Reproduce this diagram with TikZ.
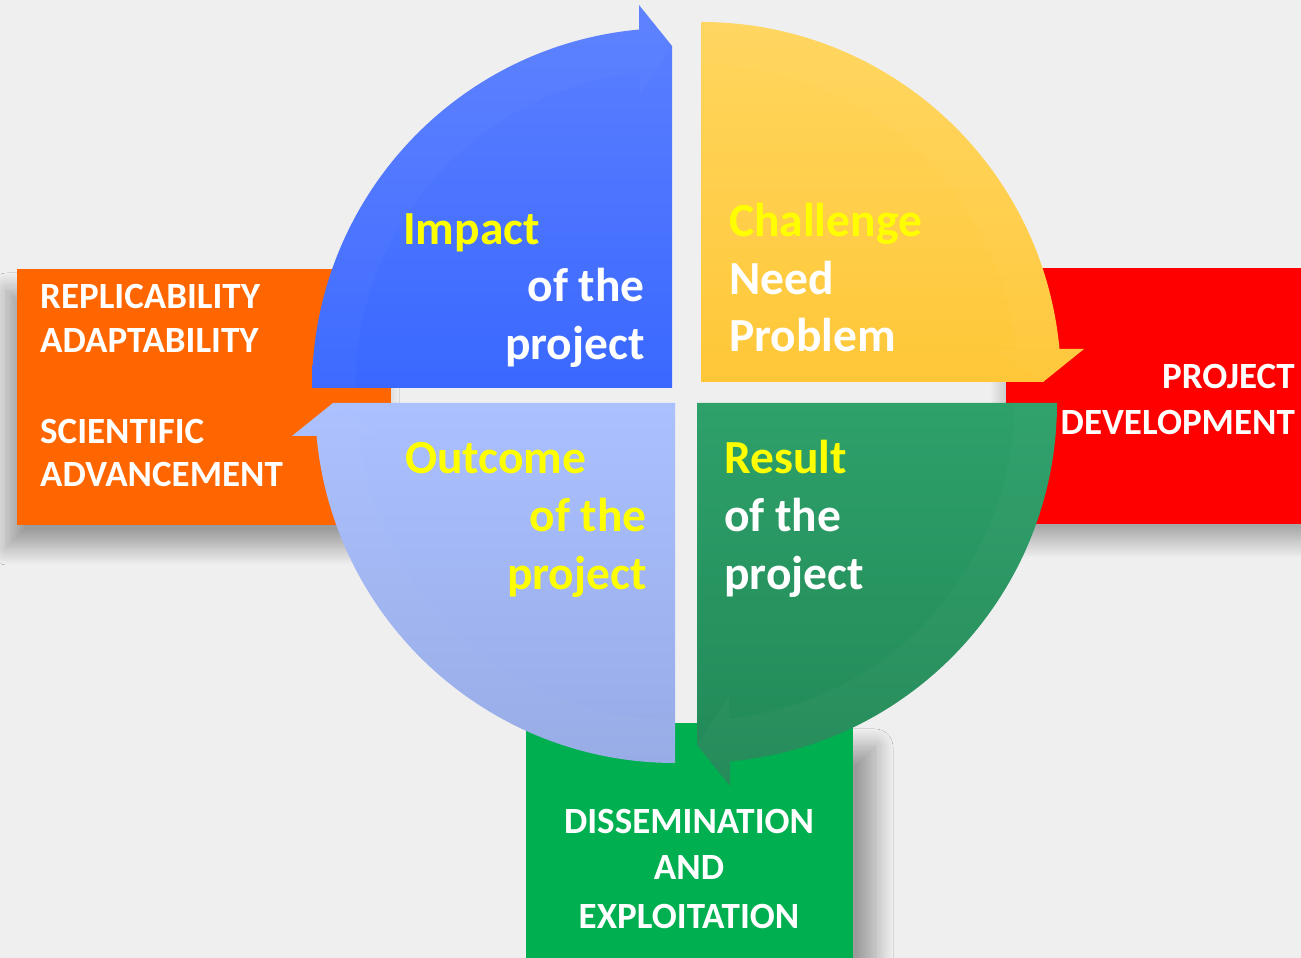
\documentclass[tikz,border=0pt]{standalone}
\usepackage{fontspec}
\setmainfont{Carlito}
\usetikzlibrary{shadows.blur}
\definecolor{bg}{RGB}{239,239,239}
\definecolor{boxorange}{RGB}{255,102,0}
\definecolor{boxred}{RGB}{255,0,0}
\definecolor{boxgreen}{RGB}{0,176,80}
\definecolor{txtyellow}{RGB}{255,255,0}
\definecolor{blueT}{RGB}{92,128,255}
\definecolor{blueB}{RGB}{58,104,255}
\definecolor{yelT}{RGB}{255,214,94}
\definecolor{yelB}{RGB}{255,199,56}
\definecolor{greT}{RGB}{46,160,106}
\definecolor{greB}{RGB}{33,137,87}
\definecolor{lbT}{RGB}{171,192,255}
\definecolor{lbB}{RGB}{150,171,230}
\newcommand\quadpath{(-360,0) arc[start angle=180,end angle=95.26,radius=360] -- (-33,383) -- (0,342) -- (0,0) -- cycle}
\newcommand\facetpath{(-360,0) arc[start angle=180,end angle=95.26,radius=360] -- (-33,383) -- (0,342) -- (-32,293) -- (-32,315.4) arc[start angle=95.8,end angle=180,radius=317] -- cycle}
\tikzset{
  quadtext/.style={inner sep=0pt,font=\bfseries\fontsize{47.5}{57}\selectfont},
  boxtext/.style={inner sep=0pt,text=white,font=\bfseries\fontsize{37}{44}\selectfont},
  facet/.style={fill=white,fill opacity=0.025},
  shadowA/.style={blur shadow={shadow xshift=-10pt,shadow yshift=-22pt,shadow blur radius=18pt,shadow blur steps=24,shadow opacity=35}},
  shadowB/.style={blur shadow={shadow xshift=0pt,shadow yshift=-18pt,shadow blur radius=16pt,shadow blur steps=24,shadow opacity=30}},
  shadowC/.style={blur shadow={shadow xshift=22pt,shadow yshift=-24pt,shadow blur radius=18pt,shadow blur steps=24,shadow opacity=35}}
}
\begin{document}
\begin{tikzpicture}[x=1pt,y=1pt]
\useasboundingbox (0,0) rectangle (1301,958);
\fill[bg] (0,0) rectangle (1301,958);
% side boxes
\fill[boxorange,shadowA] (17,433) rectangle (391,689);
\fill[boxred,shadowB] (1006,434) rectangle (1330,690);
\fill[boxgreen,shadowC] (526,-40) rectangle (853,235);
% quadrants
\begin{scope}[shift={(672,570)}]
  \shade[top color=blueT,bottom color=blueB] \quadpath;
  \fill[facet] \facetpath;
\end{scope}
\begin{scope}[shift={(701,576)},rotate=-90]
  \shade[top color=yelT,bottom color=yelB] \quadpath;
  \fill[facet] \facetpath;
\end{scope}
\begin{scope}[shift={(697,555)},rotate=180]
  \shade[top color=greT,bottom color=greB] \quadpath;
  \fill[facet] \facetpath;
\end{scope}
\begin{scope}[shift={(675,555)},rotate=90]
  \shade[top color=lbT,bottom color=lbB] \quadpath;
  \fill[facet] \facetpath;
\end{scope}
% quadrant texts
\node[quadtext,text=txtyellow,anchor=base west] (impact) at (403,713) {Impact};
\node[quadtext,text=white,anchor=base east] (impof) at (645,656) {of the};
\node[quadtext,text=white,anchor=base east] (impproj) at (645,598) {project};
\node[quadtext,text=txtyellow,anchor=base west] (chal) at (729,721) {Challenge};
\node[quadtext,text=white,anchor=base west] (need) at (729,663) {Need};
\node[quadtext,text=white,anchor=base west] (prob) at (729,606) {Problem};
\node[quadtext,text=txtyellow,anchor=base west] (outc) at (405,484) {Outcome};
\node[quadtext,text=txtyellow,anchor=base east] (outof) at (647,426) {of the};
\node[quadtext,text=txtyellow,anchor=base east] (outproj) at (647,368) {project};
\node[quadtext,text=txtyellow,anchor=base west] (res) at (724,484) {Result};
\node[quadtext,text=white,anchor=base west] (resof) at (724,426) {of the};
\node[quadtext,text=white,anchor=base west] (resproj) at (724,368) {project};
% box texts
\node[boxtext,anchor=base west] (repl) at (40,649) {REPLICABILITY};
\node[boxtext,anchor=base west] (adap) at (40,605) {ADAPTABILITY};
\node[boxtext,anchor=base west] (sci) at (40,514) {SCIENTIFIC};
\node[boxtext,anchor=base west] (adv) at (40,471) {ADVANCEMENT};
\node[boxtext,anchor=base east] (proj) at (1295,569) {PROJECT};
\node[boxtext,anchor=base east] (dev) at (1295,523) {DEVELOPMENT};
\node[boxtext,anchor=base] (diss) at (689,124) {DISSEMINATION};
\node[boxtext,anchor=base] (and) at (689,78) {AND};
\node[boxtext,anchor=base] (expl) at (689,29) {EXPLOITATION};
\end{tikzpicture}
\end{document}
